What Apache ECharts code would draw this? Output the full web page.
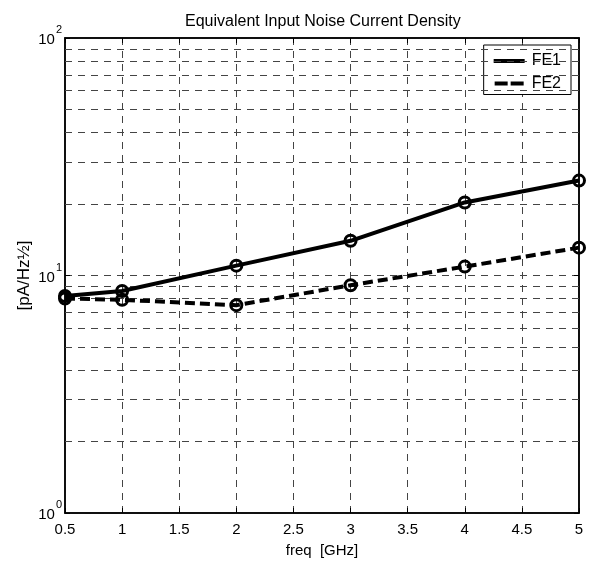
<!DOCTYPE html>
<html>
<head>
<meta charset="utf-8">
<script src="https://cdn.jsdelivr.net/npm/echarts@6/dist/echarts.min.js"></script>
<style>html,body{margin:0;padding:0;background:#fff;}#c{width:595px;height:567px;}</style>
</head>
<body>
<div id="c"></div>
<script>
const freq = [0.5, 1, 2, 3, 4, 5];
const fe1 = [8.2, 8.6, 11.0, 14.0, 20.3, 25.1];
const fe2 = [8.0, 7.9, 7.5, 9.1, 10.9, 13.1];
const minorGrid = [2,3,4,5,6,7,8,9,20,30,40,50,60,70,80,90];
const titleText = 'Equivalent Input Noise Current Density';
const xName = 'freq  [GHz]';
const yName = '[pA/Hz\u00BD]';

const FONT = 'Liberation Sans, Arial, sans-serif';
const gridLine = {color:'#444', type:[7,6], width:1};

const chart = echarts.init(document.getElementById('c'));
const yLabel = {
  color:'#000', margin: 3,
  formatter: function(v){ const e = Math.round(Math.log10(v)); return '{b|10}{s|' + e + '}'; },
  rich: { b:{fontFamily:FONT,fontSize:15,color:'#000',padding:[4,0,0,0]}, s:{fontFamily:FONT,fontSize:11,color:'#000',verticalAlign:'top',padding:[0,0,16,1]} }
};
chart.setOption({
  animation:false,
  backgroundColor:'#fff',
  title:{text:titleText,left:180,top:9,textStyle:{fontFamily:FONT,fontSize:16,fontWeight:'normal',color:'#000'}},
  legend:{
    right:24, top:45, orient:'vertical', itemGap:6.5, itemWidth:31, itemHeight:4,
    backgroundColor:'#fff', borderColor:'#000', borderWidth:1, padding:[8,10,3,10],
    textStyle:{fontFamily:FONT,fontSize:16,color:'#000',padding:[0,0,0,2]},
    itemStyle:{color:'#000',borderWidth:0,opacity:1},
    lineStyle:{opacity:0,width:0},
    data:[
      {name:'FE1', icon:'rect'},
      {name:'FE2', icon:'path://M0,0h13v4h-13z M16,0h13v4h-13z'}
    ]
  },
  grid:{left:65,right:16,top:38,bottom:54,show:true,borderColor:'#000',borderWidth:1.5,backgroundColor:'transparent'},
  xAxis:[{
    type:'value', min:0.5, max:5, interval:0.5,
    name:xName, nameLocation:'middle', nameGap:30,
    nameTextStyle:{fontFamily:FONT,fontSize:15,color:'#000'},
    axisLine:{show:true,lineStyle:{color:'#000',width:1.5}},
    axisTick:{show:true,inside:true,length:5,lineStyle:{color:'#000'}},
    axisLabel:{fontFamily:FONT,fontSize:15,color:'#000',margin:9},
    splitLine:{show:true,lineStyle:gridLine}
  },{
    type:'value', min:0.5, max:5, interval:0.5, position:'top',
    axisLine:{show:true,lineStyle:{color:'#000',width:1.5}},
    axisTick:{show:true,inside:true,length:5,lineStyle:{color:'#000'}},
    axisLabel:{show:false}, splitLine:{show:false}
  }],
  yAxis:[{
    type:'log', logBase:10, min:1, max:100,
    name:yName, nameLocation:'middle', nameGap:32, nameMoveOverlap:false,
    nameTextStyle:{fontFamily:FONT,fontSize:17,color:'#000'},
    axisLine:{show:true,lineStyle:{color:'#000',width:1.5}},
    axisTick:{show:true,inside:true,length:5,lineStyle:{color:'#000'}},
    axisLabel:yLabel,
    splitLine:{show:true,lineStyle:gridLine}
  },{
    type:'log', logBase:10, min:1, max:100, position:'right',
    axisLine:{show:true,lineStyle:{color:'#000',width:1.5}},
    axisTick:{show:true,inside:true,length:5,lineStyle:{color:'#000'}},
    axisLabel:{show:false}, splitLine:{show:false}
  }],
  series:[
    {
      name:'FE1', type:'line', xAxisIndex:0, yAxisIndex:0,
      data: freq.map((f,i)=>[f, fe1[i]]),
      lineStyle:{color:'#000',width:4},
      symbol:'circle', symbolSize:11,
      itemStyle:{color:'rgba(0,0,0,0)',borderColor:'#000',borderWidth:3},
      z:5,
      markLine:{
        silent:true, symbol:['none','none'], label:{show:false},
        lineStyle:gridLine, animation:false,
        data: minorGrid.map(v=>({yAxis:v}))
      }
    },
    {
      name:'FE2', type:'line', xAxisIndex:0, yAxisIndex:0,
      data: freq.map((f,i)=>[f, fe2[i]]),
      lineStyle:{color:'#000',width:4,type:[10,5]},
      symbol:'circle', symbolSize:11,
      itemStyle:{color:'rgba(0,0,0,0)',borderColor:'#000',borderWidth:3},
      z:5
    }
  ]
});
</script>
</body>
</html>
